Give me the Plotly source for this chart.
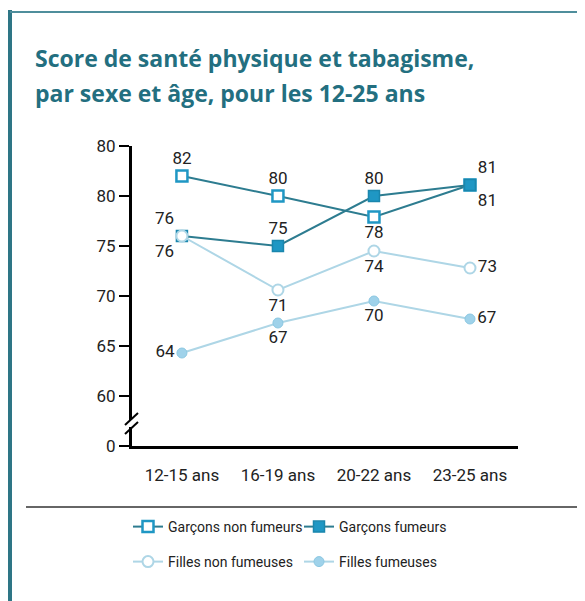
import plotly.graph_objects as go

categories = ["12-15 ans", "16-19 ans", "20-22 ans", "23-25 ans"]

garcons_non_fumeurs = [82.0, 80.0, 77.9, 81.1]
garcons_non_fumeurs_lbl = ["82", "80", "78", "81"]
garcons_fumeurs = [76.0, 75.0, 80.0, 81.1]
garcons_fumeurs_lbl = ["76", "75", "80", "81"]
filles_non_fumeuses = [76.0, 70.6, 74.5, 72.8]
filles_non_fumeuses_lbl = ["76", "71", "74", "73"]
filles_fumeuses = [64.3, 67.3, 69.5, 67.7]
filles_fumeuses_lbl = ["64", "67", "70", "67"]

ytick_vals = [55, 60, 65, 70, 75, 80, 85]
ytick_text = ["0", "60", "65", "70", "75", "80", "80"]

FONT = "Roboto, sans-serif"
TEAL = "#2d7c90"
TEAL_M = "#1f97c4"
LIGHT = "#aed6e6"
LIGHT_F = "#9fd2ea"
LBL = dict(family=FONT, size=17, color="#222")

fig = go.Figure()

fig.add_trace(go.Scatter(
    x=categories, y=garcons_non_fumeurs, name="Garçons non fumeurs", legend="legend",
    mode="lines+markers+text", text=garcons_non_fumeurs_lbl,
    textposition=["top center", "top center", "bottom center", "top right"],
    line=dict(color=TEAL, width=2),
    marker=dict(symbol="square", size=11, color="white", line=dict(color=TEAL_M, width=2.5)),
    textfont=LBL,
))
fig.add_trace(go.Scatter(
    x=categories, y=garcons_fumeurs, name="Garçons fumeurs", legend="legend",
    mode="lines+markers+text", text=garcons_fumeurs_lbl,
    textposition=["bottom left", "top center", "top center", "bottom right"],
    line=dict(color=TEAL, width=2),
    marker=dict(symbol="square", size=11, color=TEAL_M, line=dict(color="#1a86ad", width=1.5)),
    textfont=LBL,
))
fig.add_trace(go.Scatter(
    x=categories, y=filles_non_fumeuses, name="Filles non fumeuses", legend="legend2",
    mode="lines+markers+text", text=filles_non_fumeuses_lbl,
    textposition=["top left", "bottom center", "bottom center", "middle right"],
    line=dict(color=LIGHT, width=2),
    marker=dict(symbol="circle", size=11, color="white", line=dict(color=LIGHT, width=2)),
    textfont=LBL,
))
fig.add_trace(go.Scatter(
    x=categories, y=filles_fumeuses, name="Filles fumeuses", legend="legend2",
    mode="lines+markers+text", text=filles_fumeuses_lbl,
    textposition=["middle left", "bottom center", "bottom center", "middle right"],
    line=dict(color=LIGHT, width=2),
    marker=dict(symbol="circle", size=10, color=LIGHT_F, line=dict(color="#8cc8e2", width=1)),
    textfont=LBL,
))

OFF = 8  # page body margin
W, H = 585 - OFF, 601 - OFF
# plot area in page pixels: x 132..518, y 146..446
L = 132 - OFF
T = 146 - OFF
pw, ph = 386, 300
R = W - L - pw
B = H - T - ph


def px(x):
    return (x - OFF - L) / pw


def py(y):
    return (H - B - (y - OFF)) / ph


shapes = [
    dict(type="line", xref="paper", yref="paper", x0=px(10), x1=px(10), y0=py(10), y1=py(620),
         line=dict(color="#2e7686", width=4)),
    dict(type="line", xref="paper", yref="paper", x0=px(10), x1=px(600), y0=py(12), y1=py(12),
         line=dict(color="#4f8e9c", width=2)),
    dict(type="line", xref="paper", yref="paper", x0=px(26), x1=px(600), y0=py(507), y1=py(507),
         line=dict(color="#333", width=1.5)),
    dict(type="rect", xref="paper", yref="paper", x0=px(128), x1=px(136), y0=py(427), y1=py(420),
         fillcolor="white", line=dict(width=0)),
    dict(type="line", xref="paper", yref="paper", x0=px(125), x1=px(138), y0=py(425), y1=py(413),
         line=dict(color="black", width=2)),
    dict(type="line", xref="paper", yref="paper", x0=px(125), x1=px(138), y0=py(434), y1=py(422),
         line=dict(color="black", width=2)),
]

TITLE_FONT = dict(family="Open Sans, sans-serif", size=23, color="#236f80")
annotations = [
    dict(text="<b>Score de santé physique et tabagisme,</b>", xref="paper", yref="paper",
         x=px(33), y=py(58), xanchor="left", yanchor="middle", showarrow=False, font=TITLE_FONT),
    dict(text="<b>par sexe et âge, pour les 12-25 ans</b>", xref="paper", yref="paper",
         x=px(33), y=py(93), xanchor="left", yanchor="middle", showarrow=False, font=TITLE_FONT),
]

LEG = dict(orientation="h", xanchor="left", yanchor="middle", entrywidth=126,
           itemwidth=30, font=dict(family=FONT, size=14, color="#222"),
           bgcolor="rgba(0,0,0,0)")

fig.update_layout(
    width=W, height=H,
    margin=dict(l=L, r=R, t=T, b=B),
    paper_bgcolor="white", plot_bgcolor="white",
    shapes=shapes, annotations=annotations,
    showlegend=True,
    legend=dict(LEG, x=px(128), y=py(527)),
    legend2=dict(LEG, x=px(128), y=py(562)),
    xaxis=dict(range=[-0.52, 3.5], showgrid=False, zeroline=False, showline=True,
               linecolor="black", linewidth=3, ticks="", ticklabelstandoff=12,
               tickfont=dict(family=FONT, size=17, color="#222")),
    yaxis=dict(range=[55, 85], tickvals=ytick_vals, ticktext=ytick_text,
               showgrid=False, zeroline=False, showline=True, linecolor="black", linewidth=3,
               ticks="outside", ticklen=10, tickcolor="black", tickwidth=1.5,
               tickfont=dict(family=FONT, size=17, color="#222")),
)

fig.write_html("out.html")
